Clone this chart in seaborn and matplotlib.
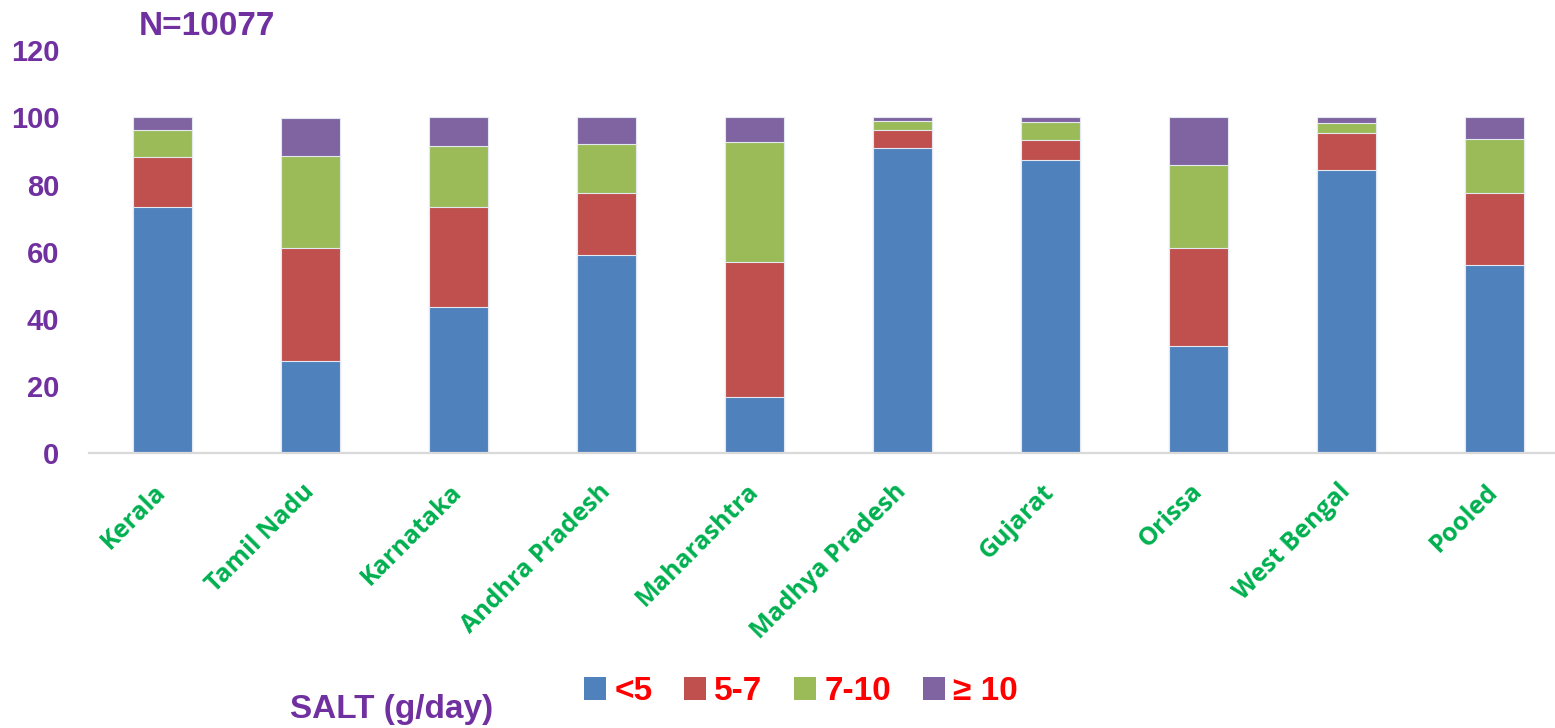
import matplotlib
matplotlib.use("Agg")
import matplotlib.pyplot as plt
from matplotlib.patches import Patch
import numpy as np
import pandas as pd
import seaborn as sns

# Share of people (%) by daily salt intake band, per state
states = ["Kerala", "Tamil Nadu", "Karnataka", "Andhra Pradesh", "Maharashtra",
          "Madhya Pradesh", "Gujarat", "Orissa", "West Bengal", "Pooled"]
salt_lt5 = [73.2, 27.6, 43.5, 58.9, 16.7, 90.8, 87.2, 31.9, 84.4, 56.1]
salt_5_7 = [14.9, 33.6, 29.7, 18.7, 40.3, 5.5, 6.1, 29.3, 11.0, 21.5]
salt_7_10 = [8.0, 27.2, 18.3, 14.4, 35.6, 2.7, 5.3, 24.7, 2.9, 15.9]
salt_ge10 = [3.9, 11.3, 8.5, 8.0, 7.4, 1.0, 1.4, 14.1, 1.7, 6.5]
band_labels = ["<5", "5-7", "7-10", "\u2265 10"]
y_ticks = [0, 20, 40, 60, 80, 100, 120]
sample_note = "N=10077"
axis_title = "SALT (g/day)"

band_colors = ["#4F81BD", "#C0504D", "#9BBB59", "#8064A2"]
purple = "#7030A0"
green = "#00B050"

sns.set_style("white")
plt.rcParams["font.family"] = ["Liberation Sans", "DejaVu Sans"]

df = pd.DataFrame({"state": states, "lt5": salt_lt5, "b5_7": salt_5_7,
                   "b7_10": salt_7_10, "ge10": salt_ge10})
cols = ["lt5", "b5_7", "b7_10", "ge10"]
cum = df[cols].cumsum(axis=1)

fig = plt.figure(figsize=(15.55, 7.28), dpi=100)
# the plot area runs slightly past the right edge of the canvas
ax = fig.add_axes([88.5 / 1555, 1 - 453.3 / 728, 1480 / 1555, (453.3 - 50.1) / 728])

# Stacked bars: draw the cumulative totals from the top band down
for col, color in reversed(list(zip(cols, band_colors))):
    sns.barplot(x=df["state"], y=cum[col], color=color, width=0.4,
                edgecolor="#e4e8f0", linewidth=0.8, saturation=1, ax=ax, order=states)

ax.set_ylim(0, 120)
ax.set_yticks(y_ticks)
ax.set_xlabel("")
ax.set_ylabel("")
for s in ["top", "right", "left"]:
    ax.spines[s].set_visible(False)
ax.spines["bottom"].set_color("#d9d9d9")
ax.spines["bottom"].set_linewidth(1.6)
ax.tick_params(axis="y", length=0, pad=21, labelsize=21, labelcolor=purple)
ax.tick_params(axis="x", length=0, pad=25)
for t in ax.get_yticklabels():
    t.set_fontweight("bold")
for t in ax.get_xticklabels():
    t.set_fontfamily(["Open Sans", "DejaVu Sans"])
    t.set_fontweight("bold")
    t.set_fontsize(18)
    t.set_color(green)
    t.set_rotation(45)
    t.set_ha("right")
    t.set_va("center")
    t.set_rotation_mode("anchor")

fig.text(139 / 1555, 1 - 35 / 728, sample_note, color=purple, fontsize=24,
         fontweight="bold", va="baseline", ha="left")
fig.text(290 / 1555, 1 - 718 / 728, axis_title, color=purple, fontsize=24,
         fontweight="bold", va="baseline", ha="left")

handles = [Patch(facecolor=c, edgecolor="none") for c in band_colors]
fig.legend(handles, band_labels, loc="center", bbox_to_anchor=(801 / 1555, 1 - 692 / 728),
           ncol=4, frameon=False, prop={"family": "Liberation Sans", "weight": "bold", "size": 24},
           labelcolor="#FF0000", handlelength=0.66, handleheight=0.69,
           handletextpad=0.25, columnspacing=0.95, borderpad=0, borderaxespad=0)

fig.savefig("out.png", dpi=100, facecolor="white")
